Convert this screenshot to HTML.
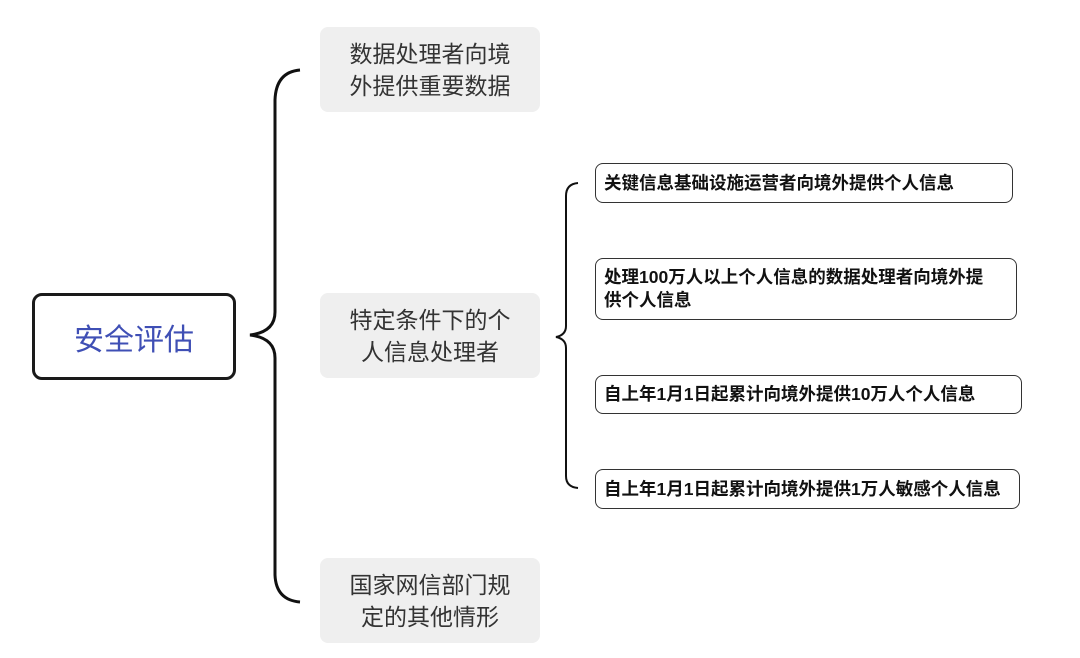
<!DOCTYPE html>
<html><head><meta charset="utf-8"><style>
html,body{margin:0;padding:0;background:#fff;}
body{width:1080px;height:658px;position:relative;overflow:hidden;font-family:"Liberation Sans","Noto Sans CJK SC",sans-serif;}
.root{position:absolute;left:32px;top:293px;width:198px;height:81px;border:3px solid #1a1a1a;border-radius:10px;display:flex;align-items:center;justify-content:center;color:#3f4fb5;font-size:30px;}
.g{position:absolute;left:320px;width:220px;height:85px;background:#efefef;border-radius:8px;display:flex;align-items:center;justify-content:center;text-align:center;color:#333;font-size:23px;line-height:32px;}
.w{position:absolute;left:595px;border:1.5px solid #333;border-radius:8px;box-sizing:border-box;padding:0 8px;display:flex;align-items:center;font-weight:bold;font-size:17.5px;line-height:23px;color:#111;white-space:nowrap;}
</style></head><body>
<svg width="1080" height="658" style="position:absolute;left:0;top:0">
<path d="M300 70 Q276 72 275 100 L275 312 Q275 332 250 335 Q275 338 275 358 L275 575 Q276 600 300 602" fill="none" stroke="#111" stroke-width="3"/>
<path d="M578 183 Q566 184 566 196 L566 326 Q566 335 556 337 Q566 339 566 348 L566 476 Q566 487 578 488" fill="none" stroke="#111" stroke-width="2"/>
</svg>
<div class="root">安全评估</div>
<div class="g" style="top:27px">数据处理者向境<br>外提供重要数据</div>
<div class="g" style="top:293px">特定条件下的个<br>人信息处理者</div>
<div class="g" style="top:558px">国家网信部门规<br>定的其他情形</div>
<div class="w" style="top:163px;width:418px;height:40px">关键信息基础设施运营者向境外提供个人信息</div>
<div class="w" style="top:258px;width:422px;height:62px">处理100万人以上个人信息的数据处理者向境外提<br>供个人信息</div>
<div class="w" style="top:375px;width:427px;height:39px">自上年1月1日起累计向境外提供10万人个人信息</div>
<div class="w" style="top:469px;width:425px;height:40px">自上年1月1日起累计向境外提供1万人敏感个人信息</div>
</body></html>
